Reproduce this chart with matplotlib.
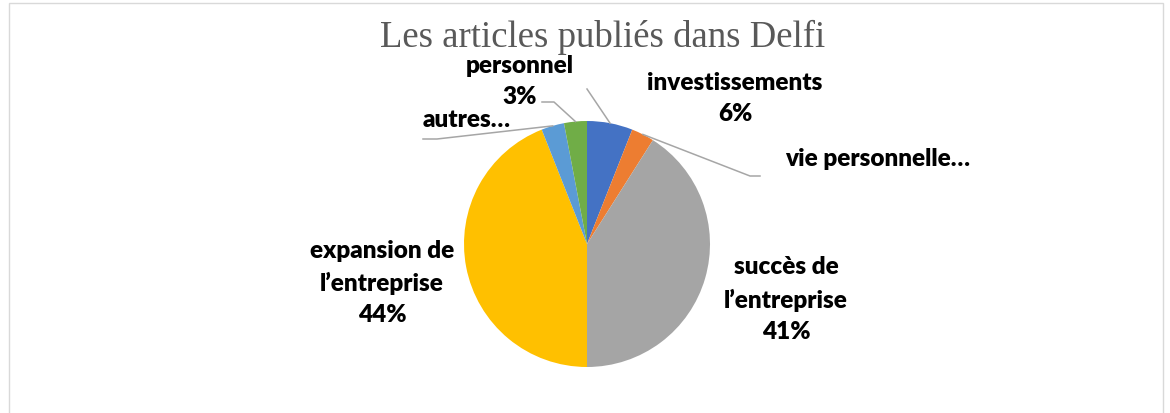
import matplotlib
matplotlib.use("Agg")
import matplotlib.pyplot as plt
import numpy as np
from matplotlib.patches import Rectangle

title = "Les articles publiés dans Delfi"
categories = ["investissements", "vie personnelle…", "succès de\nl’entreprise",
              "expansion de\nl’entreprise", "autres…", "personnel"]
values = [6, 3, 41, 44, 3, 3]
pct_labels = ["6%", None, "41%", "44%", None, "3%"]
colors = ["#4472C4", "#ED7D31", "#A5A5A5", "#FFC000", "#5B9BD5", "#70AD47"]

W, H = 1170, 414
fig = plt.figure(figsize=(W / 100, H / 100), dpi=100)
ax = fig.add_axes([0, 0, 1, 1])
ax.set_axis_off()

cx, cy, r = 587, H - 245, 123
wedges, _ = ax.pie(values, colors=colors, startangle=90, counterclock=False,
                   center=(cx, cy), radius=r, wedgeprops=dict(linewidth=0))
ax.set_xlim(0, W)
ax.set_ylim(0, H)
ax.set_aspect("auto")

# border
ax.add_patch(Rectangle((9, -10), 1154, H - 4 + 10, fill=False, ec="#D9D9D9", lw=1.0))

fig.text(603 / W, 1 - 37 / H, title, ha="center", va="center",
         fontsize=26.5, family="Liberation Serif", color="#595959")

lab_font = dict(family=["Lato", "DejaVu Sans"], fontweight="heavy", fontsize=17.5, color="black")

def edge_pt(w):
    th = np.deg2rad((w.theta1 + w.theta2) / 2)
    return cx + r * np.cos(th), cy + r * np.sin(th)

# label positions (pixel from top) — styling only
pos = [(735, 83), (878, 159), (786, 300), (382, 283), (467, 120), (520, 66)]
for i, (cat, pct) in enumerate(zip(categories, pct_labels)):
    x, y = pos[i]
    if i in (2, 3):
        lines = cat.split("\n") + [pct]
        for k, ln in enumerate(lines):
            ax.text(x, H - (y + (k - 1) * 32.5), ln, ha="center", va="center", **lab_font)
    else:
        ax.text(x, H - y, cat, ha="center", va="center", **lab_font)
        if pct:
            ax.text(x, H - (y + 31), pct, ha="center", va="center", **lab_font)

lc = dict(color="#A6A6A6", lw=1.1)
# leader lines
ex, ey = edge_pt(wedges[0])
ax.plot([587, ex], [H - 90, ey], **lc)
ex, ey = edge_pt(wedges[1])
ax.plot([ex, 750, 760], [ey, H - 177, H - 177], **lc)
ex, ey = edge_pt(wedges[5])
ax.plot([542, 554, ex], [H - 103, H - 103, ey], **lc)
ex, ey = edge_pt(wedges[4])
ax.plot([423, 437, ex], [H - 140, H - 140, ey], **lc)

fig.savefig("out.png", dpi=100, facecolor="white")
